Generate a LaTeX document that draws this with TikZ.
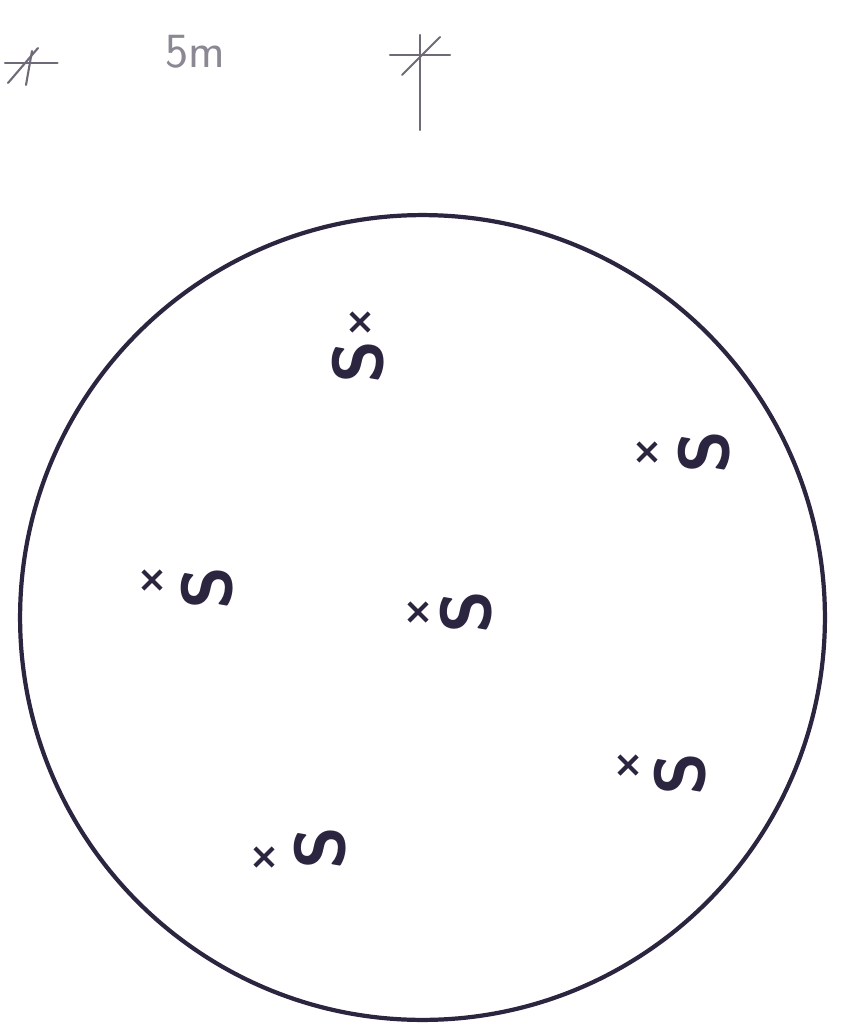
\documentclass[tikz,border=0pt]{standalone}
\usetikzlibrary{shapes.misc}
\definecolor{ink}{HTML}{2B2540}
\definecolor{pencil}{HTML}{6E6A78}

\begin{document}
\begin{tikzpicture}[
    x=0.02cm, y=-0.02cm,
    tree/.style={cross out, draw=ink, line width=2.4pt, minimum size=0.28cm, inner sep=0pt},
    tag/.style={font=\sffamily\bfseries\fontsize{40}{42}\selectfont, text=ink, rotate=90, inner sep=0pt},
    tick/.style={draw=pencil, line width=1.2pt, line cap=round}
]
\useasboundingbox (0,0) rectangle (843,1034);

% scale bar
\coordinate (s1) at (30,63);
\coordinate (s2) at (420,55);
\draw[tick] ([xshift=-0.5cm]s1) -- ([xshift=0.55cm]s1);
\draw[tick] ([shift={(-22,20)}]s1) -- ([shift={(8,-15)}]s1);
\draw[tick] ([shift={(2,-12)}]s1) -- ([shift={(-4,22)}]s1);
\draw[tick] ([xshift=-0.6cm]s2) -- ([xshift=0.6cm]s2);
\draw[tick] ([shift={(-18,20)}]s2) -- ([shift={(20,-18)}]s2);
\draw[tick] ([yshift=0.4cm]s2) -- ([yshift=-1.5cm]s2);
\node[font=\sffamily\fontsize{28}{30}\selectfont, text=pencil!80] (scale) at (195,52) {5m};

% plot boundary
\draw[ink, line width=2.4pt] (422.5,617.5) circle [radius=8.05cm];

% trees
\node[tree] (t1) at (360,322) {};
\node[tree] (t2) at (647,452) {};
\node[tree] (t3) at (152,580) {};
\node[tree] (t4) at (418,612) {};
\node[tree] (t5) at (628,765) {};
\node[tree] (t6) at (264,857) {};

\node[tag] (l1) at (358,362) {S};
\node[tag] (l2) at (704,452) {S};
\node[tag] (l3) at (207,588) {S};
\node[tag] (l4) at (466,612) {S};
\node[tag] (l5) at (680,774) {S};
\node[tag] (l6) at (320,848) {S};
\end{tikzpicture}
\end{document}
